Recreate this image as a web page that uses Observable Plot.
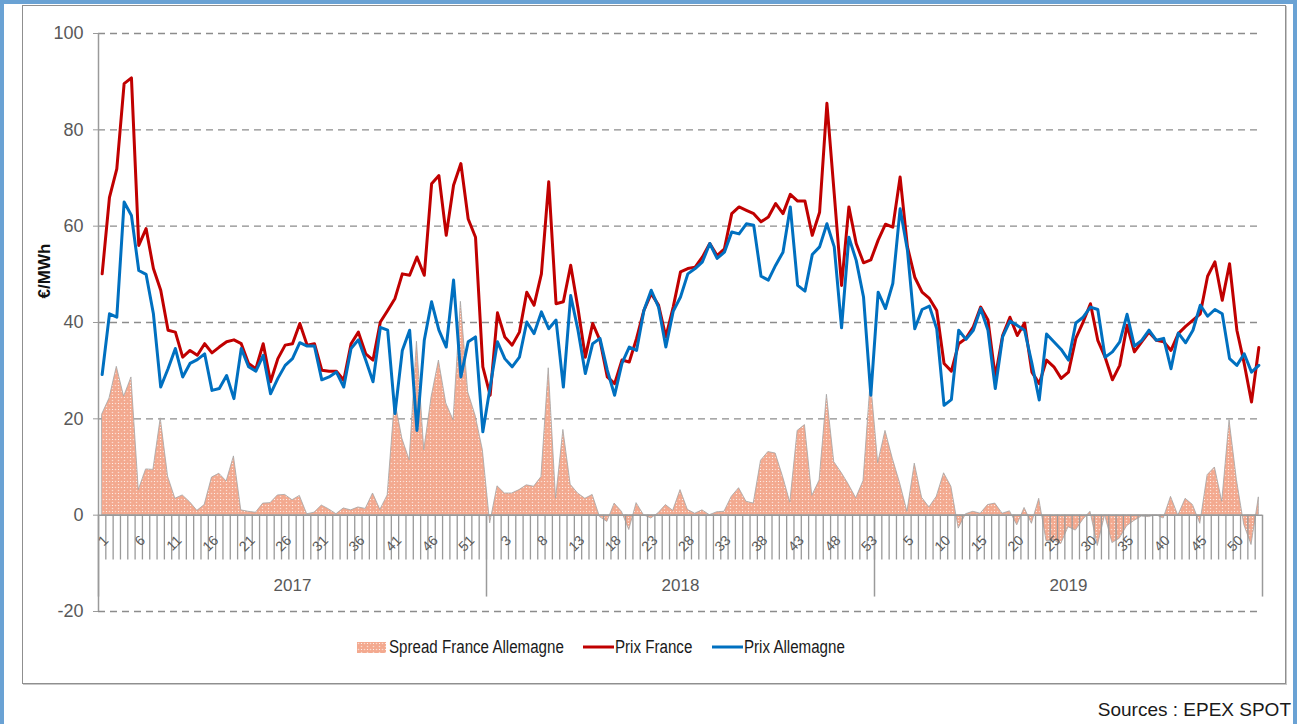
<!DOCTYPE html>
<html>
<head>
<meta charset="utf-8">
<script src="https://cdn.jsdelivr.net/npm/d3@7"></script>
<script src="https://cdn.jsdelivr.net/npm/@observablehq/plot@0.6"></script>
<style>
  html, body { margin: 0; padding: 0; background: #fff; }
  #page { position: relative; width: 1297px; height: 724px; overflow: hidden; font-family: "Liberation Sans", Arial, sans-serif; }
  #blue { position: absolute; left: 0; top: 0; width: 1297px; height: 724px; box-sizing: border-box; border: 4px solid #6aa2d4; border-bottom: none; }
  #inner { position: absolute; left: 22px; top: 5px; width: 1264px; height: 679px; box-sizing: border-box; border: 1.5px solid #8f8f8f; box-shadow: 1px 1px 0 #c8c8c8; }
  #chart { position: absolute; left: 0; top: 0; }
  #ytitle { position: absolute; left: -5px; top: 261px; width: 100px; height: 20px; line-height: 20px; text-align: center; transform: rotate(-90deg); white-space: nowrap; font-size: 17px; font-weight: bold; color: #111; }
  #legend { position: absolute; left: 0; top: 636px; width: 1297px; height: 22px; font-family: "Liberation Sans", Arial, sans-serif; font-size: 18px; color: #1a1a1a; white-space: nowrap; }
  #legend .sw { position: absolute; top: 0; height: 22px; display: flex; align-items: center; }
  #legend .lab { position: absolute; top: 0; height: 22px; line-height: 22px; transform: scaleX(0.84); transform-origin: 0 50%; }
  #legend svg { display: block; }
  #source { position: absolute; right: 6px; top: 699px; font-size: 19px; color: #1a1a1a; white-space: nowrap; }
</style>
</head>
<body>
<div id="page">
  <div id="blue"></div>
  <div id="inner"></div>
  <div id="chart"></div>
  <div id="ytitle">€/MWh</div>
  <div id="legend"></div>
  <div id="source">Sources : EPEX SPOT</div>
</div>
<script>
// ---- Data (weekly spot prices, €/MWh) ----
const years = ["2017", "2018", "2019"];
const weeksPerYear = [53, 53, 53];
const yTicks = [-20, 0, 20, 40, 60, 80, 100];
const seriesNames = ["Spread France Allemagne", "Prix France", "Prix Allemagne"];

const prixFrance2017 = [50.1, 66.0, 71.9, 89.6, 90.8, 56.0, 59.5, 51.2, 46.7, 38.4,
  38.0, 32.8, 34.2, 33.2, 35.6, 33.7, 34.9, 36.0, 36.4, 35.6,
  31.5, 30.4, 35.6, 27.7, 32.5, 35.3, 35.6, 39.8, 35.3, 35.6,
  30.1, 29.9, 29.9, 28.0, 35.6, 38.0, 33.5, 32.2, 40.1, 42.5,
  45.0, 50.1, 49.8, 53.6, 49.8, 68.8, 70.5, 58.1, 68.5, 73.0,
  61.5, 57.7, 30.8];
const prixFrance2018 = [24.9, 42.0, 37.0, 35.3, 38.0, 46.3, 43.6, 50.1, 69.2, 43.9,
  44.3, 51.9, 42.9, 32.8, 39.8, 36.3, 28.7, 27.3, 32.2, 31.8,
  36.7, 42.5, 46.0, 43.6, 37.0, 43.2, 50.5, 51.2, 51.5, 53.6,
  56.4, 53.9, 55.3, 62.6, 64.0, 63.3, 62.6, 60.9, 61.9, 64.7,
  62.6, 66.6, 65.2, 65.2, 58.1, 62.9, 85.5, 66.7, 47.7, 64.0,
  56.4, 52.4, 53.0];
const prixFrance2019 = [57.1, 60.4, 59.8, 70.2, 55.7, 49.4, 46.3, 45.0, 42.5, 31.5,
  29.9, 35.6, 36.7, 39.1, 43.2, 40.5, 28.7, 37.3, 41.1, 37.3,
  39.9, 29.7, 27.3, 32.2, 30.8, 28.4, 29.7, 36.7, 40.1, 43.9,
  36.3, 32.8, 28.1, 31.1, 39.4, 33.9, 36.0, 38.0, 36.3, 36.0,
  34.2, 37.7, 39.2, 40.5, 41.8, 49.6, 52.6, 44.6, 52.2, 38.4,
  31.5, 23.5, 34.8];

const prixAllemagne2017 = [29.2, 41.8, 41.1, 65.0, 62.2, 50.8, 50.0, 41.8, 26.6, 30.4,
  34.6, 28.7, 31.5, 32.3, 33.5, 25.9, 26.3, 29.0, 24.2, 34.6,
  30.8, 29.9, 33.2, 25.2, 28.4, 31.1, 32.5, 35.8, 35.1, 35.1,
  28.1, 28.7, 29.7, 26.6, 34.6, 36.4, 32.2, 27.7, 39.0, 38.4,
  21.1, 34.2, 38.4, 17.6, 36.3, 44.3, 38.4, 34.9, 48.8, 28.7,
  36.0, 37.0, 17.3];
const prixAllemagne2018 = [26.6, 36.0, 32.5, 30.8, 32.8, 40.1, 37.7, 42.2, 38.7, 40.5,
  26.6, 45.6, 38.4, 29.4, 35.6, 36.7, 30.1, 24.9, 31.5, 34.9,
  34.2, 42.5, 46.7, 43.2, 34.9, 42.3, 45.3, 50.1, 51.2, 52.6,
  56.4, 53.3, 54.6, 58.8, 58.4, 60.5, 60.2, 49.6, 48.8, 51.9,
  54.6, 64.0, 47.7, 46.5, 54.1, 55.7, 60.5, 55.7, 38.9, 57.7,
  52.9, 45.3, 24.9];
const prixAllemagne2019 = [46.3, 42.9, 48.1, 63.6, 55.0, 38.7, 42.7, 43.4, 38.7, 22.8,
  24.0, 38.4, 36.5, 38.4, 42.9, 38.4, 26.3, 37.0, 40.3, 39.4,
  38.4, 31.5, 23.9, 37.6, 36.0, 34.4, 32.2, 39.9, 41.1, 43.2,
  42.7, 32.8, 33.9, 36.0, 41.7, 35.1, 36.3, 38.4, 36.3, 36.7,
  30.4, 37.8, 35.8, 38.4, 43.6, 41.3, 42.7, 41.8, 32.5, 31.1,
  33.5, 29.7, 31.1];

// ---- Build table (spread = France - Allemagne) ----
const franceByYear = [prixFrance2017, prixFrance2018, prixFrance2019];
const germanyByYear = [prixAllemagne2017, prixAllemagne2018, prixAllemagne2019];
const rows = [];
const yearRows = [];
let idx = 0;
years.forEach((yr, k) => {
  const start = idx;
  for (let w = 0; w < weeksPerYear[k]; w++) {
    const fr = franceByYear[k][w], de = germanyByYear[k][w];
    rows.push({i: idx, year: yr, week: w + 1, fr, de, spread: Math.round((fr - de) * 10) / 10});
    idx++;
  }
  yearRows.push({year: yr, center: (start + idx - 1) / 2, start: start - 0.5, end: idx - 0.5});
});
const n = rows.length;
const tickRows = rows.filter(r => r.i % 5 === 0);
const catBoundaries = rows.slice(1).map(r => r.i - 0.5);
const yearBoundaries = [-0.5, ...yearRows.map(r => r.end)];

const axisGray = "#9a9a9a";
const textGray = "#595959";

const svg = Plot.plot({
  width: 1297,
  height: 630,
  marginTop: 33,
  marginBottom: 19,
  marginLeft: 98,
  marginRight: 35,
  style: {fontFamily: "'Liberation Sans', Arial, sans-serif", background: "transparent", overflow: "visible"},
  x: {domain: [-0.5, n - 0.5], axis: null},
  y: {domain: [-20, 100], axis: null},
  marks: [
    Plot.ruleY(yTicks.filter(t => t !== 0), {stroke: "#8c8c8c", strokeWidth: 1.3, strokeDasharray: "7,5"}),
    Plot.areaY(rows, {x: "i", y: "spread", fill: "url(#spreadDots)", stroke: "#a3a3a3", strokeWidth: 0.8}),
    Plot.ruleY([0], {stroke: axisGray, strokeWidth: 1.5}),
    Plot.ruleX(catBoundaries, {y1: 0, y2: -9.3, stroke: axisGray, strokeWidth: 1.3}),
    Plot.ruleX(yearBoundaries, {y1: 0, y2: -17, stroke: axisGray, strokeWidth: 1.5}),
    Plot.ruleX([-0.5], {y1: -20, y2: 100, stroke: axisGray, strokeWidth: 1.5}),
    Plot.axisY({ticks: yTicks, tickSize: 5, tickPadding: 10, fontSize: 18, stroke: axisGray, fill: textGray, label: null, tickFormat: d => String(d)}),
    Plot.line(rows, {x: "i", y: "fr", stroke: "#C00000", strokeWidth: 3}),
    Plot.line(rows, {x: "i", y: "de", stroke: "#0070C0", strokeWidth: 3}),
    Plot.text(tickRows, {x: "i", y: 0, text: d => String(d.week), rotate: -45, textAnchor: "end", dx: 4, dy: 23, fontSize: 14, fill: textGray}),
    Plot.text(yearRows, {x: "center", y: 0, text: "year", dy: 70, fontSize: 17, fill: textGray})
  ]
});

const ns = "http://www.w3.org/2000/svg";
const defs = document.createElementNS(ns, "defs");
defs.innerHTML = `
  <pattern id="spreadDots" width="6" height="6" patternUnits="userSpaceOnUse">
    <rect width="6" height="6" fill="#f3a98f"></rect>
    <circle cx="1.5" cy="1.5" r="0.8" fill="#fbdace"></circle>
    <circle cx="4.5" cy="4.5" r="0.8" fill="#fbdace"></circle>
    <circle cx="4.5" cy="1.5" r="0.6" fill="#ffffff"></circle>
  </pattern>`;
svg.insertBefore(defs, svg.firstChild);
document.getElementById("chart").appendChild(svg);

// ---- Legend ----
const legend = document.getElementById("legend");
legend.innerHTML = `
  <div class="sw" style="left:357px"><svg width="29" height="11"><rect width="29" height="11" fill="url(#spreadDots)"></rect></svg></div>
  <span class="lab" style="left:389px">${seriesNames[0]}</span>
  <div class="sw" style="left:583px"><svg width="31" height="6"><line x1="0" x2="31" y1="3" y2="3" stroke="#C00000" stroke-width="3"></line></svg></div>
  <span class="lab" style="left:615px">${seriesNames[1]}</span>
  <div class="sw" style="left:712px"><svg width="31" height="6"><line x1="0" x2="31" y1="3" y2="3" stroke="#0070C0" stroke-width="3"></line></svg></div>
  <span class="lab" style="left:744px">${seriesNames[2]}</span>`;
</script>
</body>
</html>
